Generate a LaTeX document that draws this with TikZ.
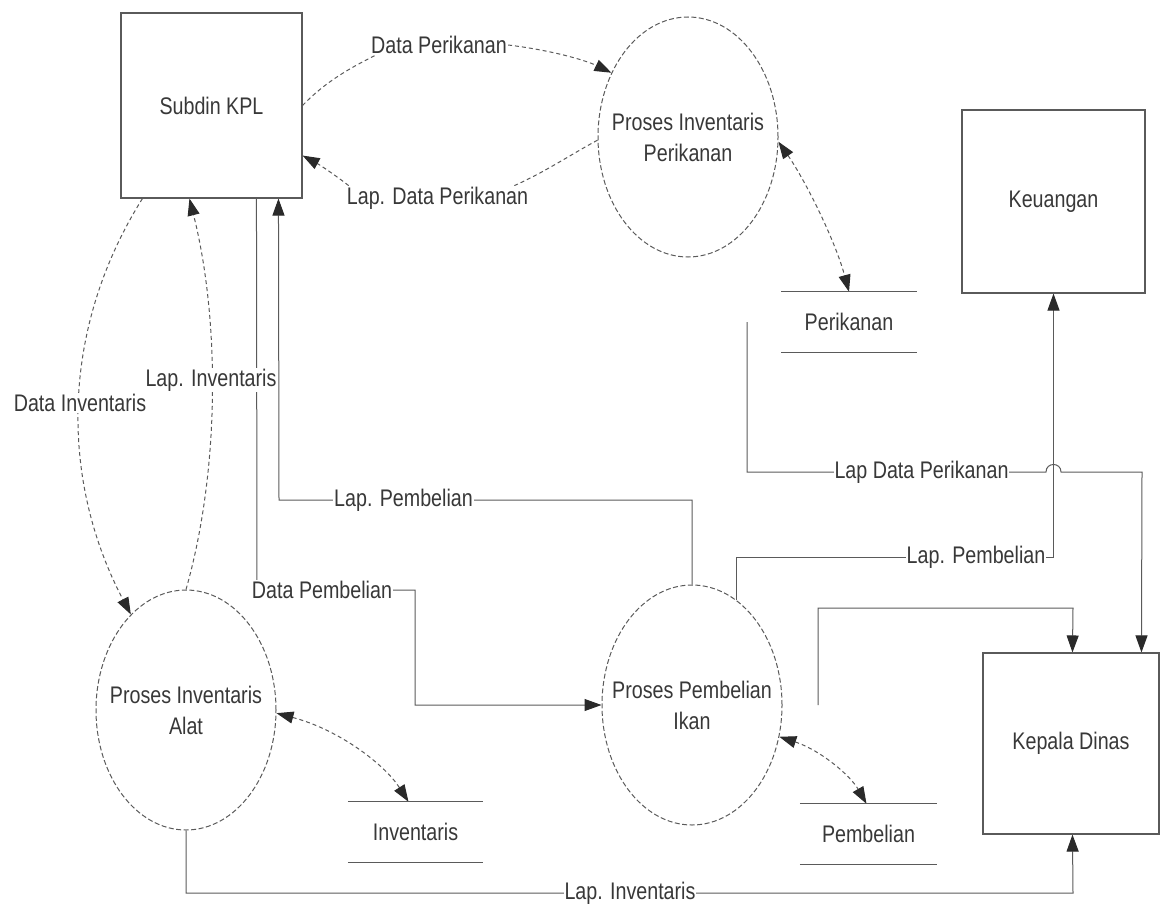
\documentclass[tikz,border=0pt]{standalone}
\usepackage{fontspec}
\setmainfont{Liberation Sans}[FakeStretch=0.82]
\usetikzlibrary{arrows.meta,shapes.geometric,calc,backgrounds}
\definecolor{ink}{HTML}{383838}
\definecolor{wire}{HTML}{5A5A5A}
\definecolor{tip}{HTML}{2A2A2A}
\begin{document}
\begin{tikzpicture}[x=1pt,y=-1pt,
  every node/.style={font=\fontsize{24}{31}\selectfont, text=ink},
  entity/.style={draw=wire, line width=1.1pt, inner sep=0pt},
  process/.style={ellipse, draw=wire, line width=1pt, dash pattern=on 5pt off 2.5pt,
                  minimum width=180pt, minimum height=240pt, inner sep=0pt},
  ptext/.style={align=center, inner sep=0pt},
  store/.style={inner sep=0pt, minimum height=60pt},
  lbl/.style={fill=white, inner sep=1pt},
  flow/.style={draw=wire, line width=1pt},
  dflow/.style={flow, dash pattern=on 4pt off 3pt},
  >={Triangle[length=17pt,width=12pt,color=tip]}]

\useasboundingbox (0,0) rectangle (1161,912);

% external entities
\node[entity, minimum width=181pt, minimum height=185pt] (subdin) at (211.5,105.5) {Subdin KPL};
\node[entity, minimum width=183pt, minimum height=183pt] (keu) at (1053.5,201.5) {Keuangan};
\node[entity, minimum width=176pt, minimum height=181pt] (kd) at (1071,743.5) {Kepala Dinas};

% processes
\node[process] (pip) at (688,137) {};
\node[ptext] (pipText) at (pip.center) {Proses Inventaris\\Perikanan};
\node[process] (pia) at (186,710) {};
\node[ptext] (piaText) at (pia.center) {Proses Inventaris\\Alat};
\node[process] (ppi) at (692,705) {};
\node[ptext] (ppiText) at (ppi.center) {Proses Pembelian\\Ikan};

% data stores
\node[store, minimum width=135pt] (perikanan) at (849,322) {Perikanan};
\node[store, minimum width=135pt] (inventaris) at (415.5,832) {Inventaris};
\node[store, minimum width=137pt] (pembelian) at (868.5,834) {Pembelian};
\foreach \s in {perikanan,inventaris,pembelian}{
  \draw[flow] (\s.north west) -- (\s.north east);
  \draw[flow] (\s.south west) -- (\s.south east);
}

% flow labels (white backing hides the flow line behind the text)
\node[lbl] (dpkLab) at (439,45) {Data Perikanan};
\node[lbl] (ldpLab) at (437.5,198) {Lap. Data Perikanan};
\node[lbl] (diLab) at (80,403) {Data Inventaris};
\node[lbl] (liLab) at (211,380) {Lap. Inventaris};
\node[lbl] (lpLLab) at (403.5,500) {Lap. Pembelian};
\node[lbl] (dpLab) at (322,590) {Data Pembelian};
\node[lbl] (ldLab) at (921.5,472) {Lap Data Perikanan};
\node[lbl] (lpRLab) at (976,557) {Lap. Pembelian};
\node[lbl] (libLab) at (630,893) {Lap. Inventaris};

% bend points and free ends
\coordinate (dpA) at (257,590);
\coordinate (dpB) at (415,590);
\coordinate (lpL) at (279,500);
\coordinate (ldA) at (747,322);
\coordinate (ldB) at (747,472);
\coordinate (jL) at (1046,472);
\coordinate (jR) at (1061,472);
\coordinate (ldC) at (1142,472);
\coordinate (lpBend) at (1053.5,557);
\coordinate (unA) at (818,705);
\coordinate (unB) at (1073,608);
\coordinate (liB) at (1073,893);

\begin{scope}[on background layer]
% dashed flows between Subdin KPL and the processes
\draw[dflow] (subdin.east) .. controls (325,82) and (350,68) .. ($(dpkLab.south west)+(6,0)$);
\draw[dflow,->] (dpkLab.east) .. controls (550,50) and (585,60) .. (pip.140);
\draw[dflow] (pip.182) .. controls (570,155) and (545,172) .. ($(ldpLab.north east)+(-15,0)$);
\draw[dflow,->] ($(ldpLab.north west)+(3,0)$) .. controls (335,175) and (320,165) .. ($(subdin.south east)+(0,-43)$);
\draw[dflow,->] ($(subdin.south west)+(22,0)$) .. controls (60,330) and (60,480) .. (pia.120);
\draw[dflow,->] (pia.north) .. controls (220,470) and (220,320) .. ($(subdin.south west)+(69,0)$);

% process <-> data store
\draw[dflow,<->] (pip.-3) .. controls (805,180) and (835,240) .. (perikanan.north);
\draw[dflow,<->] (pia.-2) .. controls (340,730) and (385,765) .. ($(inventaris.north)+(-7,0)$);
\draw[dflow,<->] (ppi.-20) .. controls (820,750) and (850,775) .. ($(pembelian.north)+(-2,0)$);

% solid flows
\draw[flow,->] ($(subdin.south west)+(136,0)$) -- (dpA) -- (dpB) |- (ppi.west);
\draw[flow,->] (ppi.north) |- (lpL) -- ($(subdin.south west)+(158,0)$);
\draw[flow,->] (ldA) -- (ldB) -- (jL) .. controls ($(jL)+(0,-10)$) and ($(jR)+(0,-10)$) .. (jR)
  -- (ldC) -- ($(kd.north west)+(159,0)$);
\draw[flow,->] (ppi.67) |- (lpBend) -- (keu.south);
\draw[flow,->] (unA) |- (unB) -- ($(kd.north west)+(90,0)$);
\draw[flow,->] (pia.south) |- (liB) -- ($(kd.south west)+(90,0)$);
\end{scope}
\end{tikzpicture}
\end{document}
